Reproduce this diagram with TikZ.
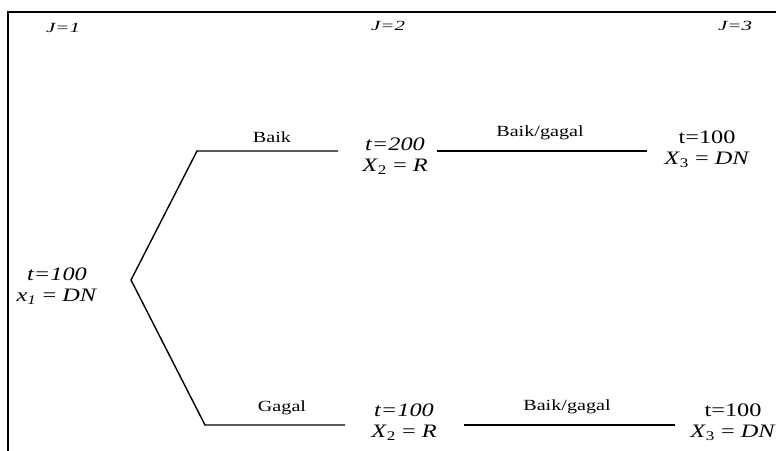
\documentclass[tikz,border=0pt]{standalone}
\usepackage{fontspec}
\setmainfont{Liberation Serif}
\newfontfamily\widefont{Liberation Serif}[FakeStretch=1.28]
\newfontfamily\labfont{Liberation Serif}[FakeStretch=1.3]
\newfontfamily\jfont{Liberation Serif}[FakeStretch=1.5]
\begin{document}
\begin{tikzpicture}[x=1pt,y=-1pt,
  frame/.style={line width=1.6pt},
  branch/.style={line width=1.4pt},
  state/.style={font=\widefont\fontsize{19}{21.5}\selectfont, align=center, inner sep=0pt},
  lab/.style={font=\labfont\fontsize{15.5}{17}\selectfont, inner sep=0pt},
  jlab/.style={font=\jfont\itshape\fontsize{14}{15}\selectfont, inner sep=0pt}]
\useasboundingbox (0,0) rectangle (776,450);
\draw[frame] (8,452) -- (8,12) -- (778,12);
% stage labels
\node[jlab] (j1) at (63,28) {J=1};
\node[jlab] (j2) at (388,26) {J=2};
\node[jlab] (j3) at (735,26) {J=3};
% state nodes
\node[state] (root) at (57,286) {\textit{t=100}\\\textit{x\textsubscript{1}} = \textit{DN}};
\node[state] (up2) at (395,156) {\textit{t=200}\\\textit{X}\textsubscript{2} = \textit{R}};
\node[state] (up3) at (707,149) {t=100\\\textit{X}\textsubscript{3} = \textit{DN}};
\node[state] (lo2) at (404,422) {\textit{t=100}\\\textit{X}\textsubscript{2} = \textit{R}};
\node[state] (lo3) at (733,422) {t=100\\\textit{X}\textsubscript{3} = \textit{DN}};
% branch points
\coordinate (fork) at (131,280);
\coordinate (ua) at (197,151);
\coordinate (ub) at (338,151);
\coordinate (uc) at (437,151);
\coordinate (ud) at (647,151);
\coordinate (la) at (205,425);
\coordinate (lb) at (345,425);
\coordinate (lc) at (464,425);
\coordinate (ld) at (675,425);
\draw[branch] (ub) -- (ua) -- (fork) -- (la) -- (lb);
\draw[branch] (uc) -- (ud);
\draw[branch] (lc) -- (ld);
% branch labels
\node[lab] (l1) at (272,137) {Baik};
\node[lab] (l2) at (540,133) {Baik/gagal};
\node[lab] (l3) at (282,408) {Gagal};
\node[lab] (l4) at (567,407) {Baik/gagal};
\end{tikzpicture}
\end{document}
